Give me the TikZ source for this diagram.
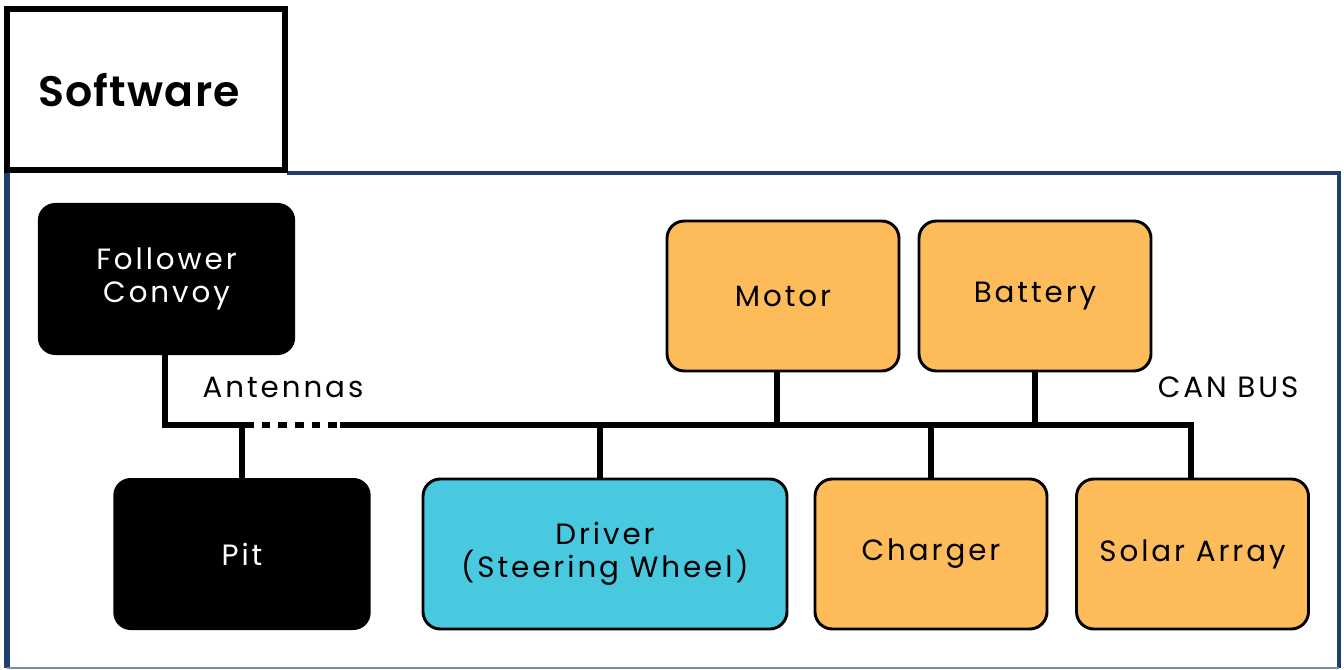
\documentclass[tikz,border=0pt]{standalone}
\usepackage{fontspec}
\setmainfont{Poppins}[LetterSpace=10]
\newfontfamily\headfont{Poppins}[BoldFont=* SemiBold,LetterSpace=3]
\usetikzlibrary{positioning}
\definecolor{frameblue}{HTML}{1F3E6E}
\definecolor{unitorange}{HTML}{FDBB59}
\definecolor{drivercyan}{HTML}{48C9E0}

\tikzset{
  unit/.style={draw=black, line width=2.2pt, rounded corners=13pt, align=center,
    font=\fontsize{22}{24.5}\selectfont, minimum height=112.5pt},
  linkbox/.style={fill=black, text=white, rounded corners=13pt, align=center,
    font=\fontsize{22}{24.5}\selectfont, minimum width=193pt, minimum height=114pt},
  bus/.style={line width=5.2pt},
}

\begin{document}
\begin{tikzpicture}[x=0.75pt,y=-0.75pt]
    \useasboundingbox (0,0) rectangle (1344,670);
    % outer frame
    \draw[frameblue,line width=3pt] (287,173) -- (1339,173) -- (1339,668);
    \draw[frameblue,line width=4pt] (7,172) -- (7,668);
    \draw[frameblue!60,line width=1.5pt] (7,668) -- (1339,668);
    \node[draw, line width=4pt, minimum width=208.5pt, minimum height=120.75pt] (title) at (146,89.5) {};
    \node[font=\headfont\bfseries\fontsize{32}{36}\selectfont] (titletext) at (139,90) {Software};

    % radio side
    \node[linkbox] (follower) at (166.5,279) {Follower\\Convoy};
    \node[linkbox] (pit) at (242,554) {Pit};

    % car units
    \node[unit, fill=drivercyan, minimum width=273pt] (driver) at (605,554) {Driver\\(Steering Wheel)};
    \node[unit, fill=unitorange, minimum width=174pt] (charger) at (931,554) {Charger};
    \node[unit, fill=unitorange, minimum width=174pt] (solar) at (1192.5,554) {Solar Array};
    \node[unit, fill=unitorange, minimum width=174pt] (motor) at (783,296) {Motor};
    \node[unit, fill=unitorange, minimum width=174pt] (battery) at (1035,296) {Battery};

    % bus
    \coordinate (antL) at (245,425);
    \coordinate (antR) at (340,425);
    \coordinate (busR) at (1191,425);
    \draw[bus] (follower.south -| 165,0) |- (antL);
    \draw[bus] (pit.north) -- (pit.north |- antL);
    \draw[bus, dash pattern=on 6.5pt off 6pt] (antL) -- (antR);
    \draw[bus] (antR) -- (busR) -- (busR |- solar.north);
    \draw[bus] ([xshift=-3.75pt]driver.north) -- ([xshift=-3.75pt]driver.north |- antR);
    \draw[bus] (charger.north) -- (charger.north |- antR);
    \draw[bus] ([xshift=-4.5pt]motor.south) -- ([xshift=-4.5pt]motor.south |- antR);
    \draw[bus] (battery.south) -- (battery.south |- antR);

    \node[font=\fontsize{22}{24.5}\selectfont] (antlabel) at (283,387) {Antennas};
    \node[font=\fontsize{22}{24.5}\selectfont] (canlabel) at (1228,387) {CAN BUS};
\end{tikzpicture}
\end{document}
